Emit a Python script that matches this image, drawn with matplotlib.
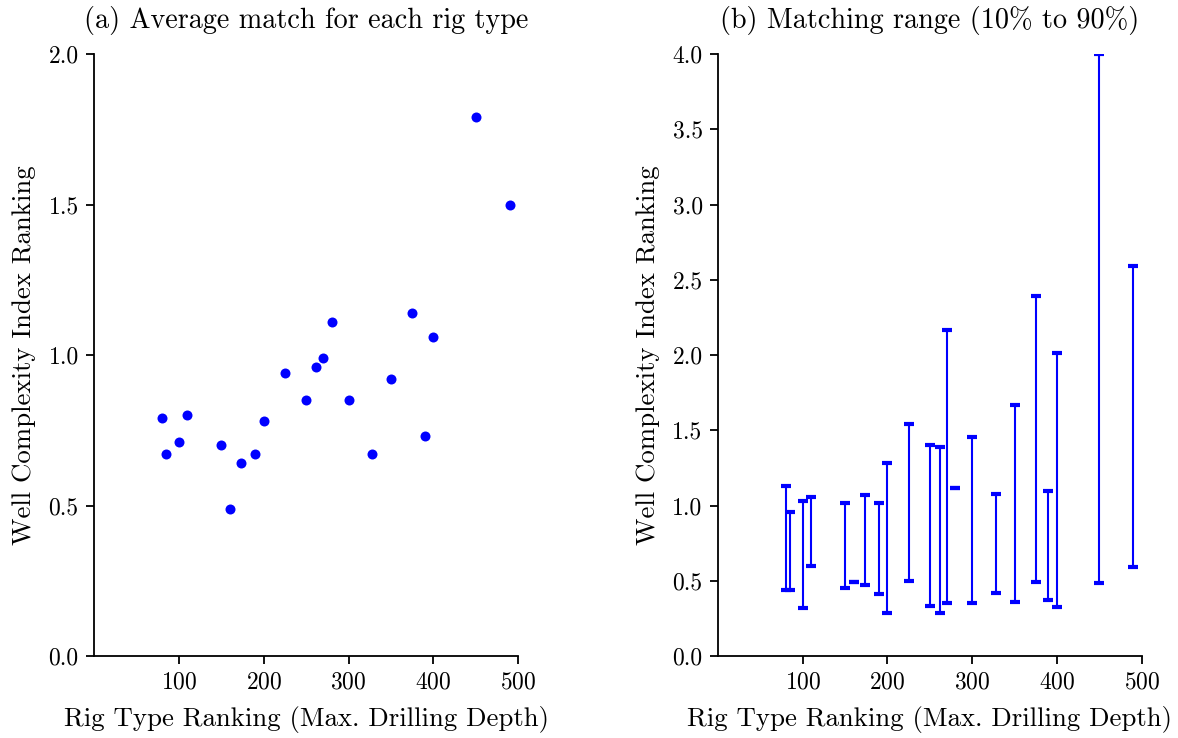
import numpy as np
import matplotlib
matplotlib.use('Agg')
import matplotlib.pyplot as plt

plt.rcParams['font.family'] = 'serif'
plt.rcParams['font.serif'] = ['cmr10', 'DejaVu Serif']
plt.rcParams['mathtext.fontset'] = 'cm'
plt.rcParams['axes.formatter.use_mathtext'] = True
plt.rcParams['font.size'] = 17

# rig type ranking (max. drilling depth)
rig_rank = [80, 85, 100, 110, 150, 160, 173, 190, 200, 225, 250,
            262, 270, 280, 300, 328, 350, 375, 390, 400, 450, 490]
# average well complexity index ranking per rig type
avg_match = [0.79, 0.67, 0.71, 0.80, 0.70, 0.49, 0.64, 0.67, 0.78, 0.94, 0.85,
             0.96, 0.99, 1.11, 0.85, 0.67, 0.92, 1.14, 0.73, 1.06, 1.79, 1.50]
# 10% and 90% quantiles
q10 = [0.44, 0.44, 0.32, 0.60, 0.45, 0.49, 0.47, 0.41, 0.285, 0.50, 0.335,
       0.287, 0.356, 1.114, 0.354, 0.42, 0.358, 0.49, 0.37, 0.325, 0.486, 0.59]
q90 = [1.13, 0.96, 1.03, 1.06, 1.02, 0.49, 1.07, 1.02, 1.28, 1.54, 1.40,
       1.39, 2.17, 1.114, 1.455, 1.08, 1.667, 2.39, 1.10, 2.017, 4.0, 2.595]

rig_rank = np.array(rig_rank)
q10 = np.array(q10)
q90 = np.array(q90)
mid = (q10 + q90) / 2.

fig = plt.figure(figsize=(11.78, 7.38), dpi=100)
ax1 = fig.add_axes([0.0798, 0.111, 0.3602, 0.8157])
ax2 = fig.add_axes([0.6095, 0.111, 0.3597, 0.8157])

ax1.plot(rig_rank, avg_match, 'o', color='blue', ms=7.2, mec='none')
ax1.set_ylim(0, 2.0)
ax1.set_yticks(np.arange(0, 2.01, 0.5))
ax1.set_title('(a) Average match for each rig type', fontsize=20.3, pad=19)

ax2.errorbar(rig_rank, mid, yerr=[mid - q10, q90 - mid], fmt='none',
             ecolor='blue', elinewidth=1.5, capsize=3.5, capthick=3)
ax2.set_ylim(0, 4.0)
ax2.set_yticks(np.arange(0, 4.01, 0.5))
ax2.set_title('(b) Matching range (10% to 90%)', fontsize=20.3, pad=19)

for ax in [ax1, ax2]:
    ax.set_xlim(0, 500)
    ax.set_xticks([100, 200, 300, 400, 500])
    ax.yaxis.set_major_formatter(matplotlib.ticker.FormatStrFormatter('%.1f'))
    ax.spines['top'].set_visible(False)
    ax.spines['right'].set_visible(False)
    ax.spines['left'].set_linewidth(1.3)
    ax.spines['bottom'].set_linewidth(1.3)
    ax.tick_params(width=1.3, length=6, pad=5)
    ax.set_xlabel('Rig Type Ranking (Max. Drilling Depth)', fontsize=19.3, labelpad=9)
    ax.set_ylabel('Well Complexity Index Ranking', fontsize=19.3, labelpad=9)

fig.savefig('out.png', dpi=100)
